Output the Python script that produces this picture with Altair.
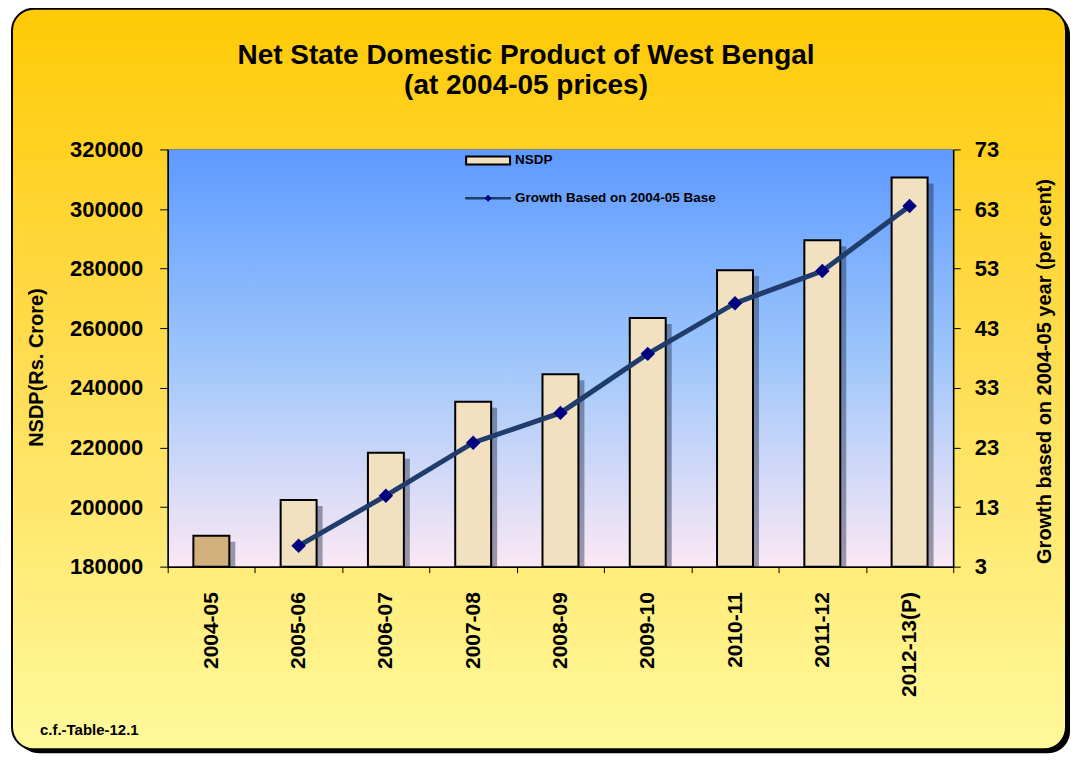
import altair as alt
import pandas as pd

years = ["2004-05", "2005-06", "2006-07", "2007-08", "2008-09",
         "2009-10", "2010-11", "2011-12", "2012-13(P)"]
nsdp = [190400, 202400, 218200, 235300, 244600, 263400, 279500, 289500, 310600]
growth_years = years[1:]
growth = [6.5, 14.9, 23.8, 28.8, 38.7, 47.2, 52.6, 63.5]

W, H = 787, 418
FONT = "Liberation Sans"

bars_df = pd.DataFrame({"year": years, "nsdp": nsdp})
line_df = pd.DataFrame({"year": growth_years, "growth": growth})
one = pd.DataFrame({"k": [0]})

xscale = alt.Scale(domain=years, paddingInner=0, paddingOuter=0)
x_axis = alt.Axis(title=None, labelAngle=270, labelAlign="right", labelBaseline="middle",
                  labelPadding=19, labelFontSize=21, labelFontWeight="bold", labelFont=FONT,
                  labelColor="black", tickBand="extent", tickSize=6, tickColor="black",
                  domainColor="black", domainWidth=1.5, zindex=1)

outer_grad = {"gradient": "linear", "x1": 0, "y1": 0, "x2": 0, "y2": 1,
              "stops": [{"offset": 0, "color": "#FFCA05"},
                        {"offset": 0.5, "color": "#FFDE55"},
                        {"offset": 1, "color": "#FFF99C"}]}
plot_grad = {"gradient": "linear", "x1": 0, "y1": 0, "x2": 0, "y2": 1,
             "stops": [{"offset": 0, "color": "#5D99FF"},
                       {"offset": 0.5, "color": "#9EC6FB"},
                       {"offset": 1, "color": "#FBE8F4"}]}

shadow = alt.Chart(one).mark_rect(cornerRadius=22, fill="#000000").encode(
    x=alt.value(-151), x2=alt.value(904), y=alt.value(-137), y2=alt.value(605))
outer = alt.Chart(one).mark_rect(cornerRadius=22, fill=outer_grad, stroke="black",
                                 strokeWidth=2).encode(
    x=alt.value(-156), x2=alt.value(900), y=alt.value(-141), y2=alt.value(601))
plotbg = alt.Chart(one).mark_rect(fill=plot_grad, stroke="#808080", strokeWidth=1).encode(
    x=alt.value(0), x2=alt.value(W), y=alt.value(0), y2=alt.value(H))

yl = alt.Scale(domain=[180000, 320000], nice=False, zero=False)
left_axis = alt.Axis(title="NSDP(Rs. Crore)", values=list(range(180000, 320001, 20000)),
                     format="d", labelFontSize=22, labelFontWeight="bold", labelFont=FONT,
                     labelColor="black", labelPadding=17, tickSize=8, tickColor="black",
                     domainColor="black", domainWidth=1.5, grid=False,
                     titleFontSize=20, titleFont=FONT, titleFontWeight="bold", titleColor="black",
                     titleX=-131, titleY=218, titleAngle=270, titleAlign="center",
                     titleBaseline="middle", zindex=1)

bar_shadow = alt.Chart(bars_df).mark_bar(size=36, color="#1a2440", opacity=0.42,
                                         xOffset=6, yOffset=6).encode(
    x=alt.X("year:N", scale=xscale, axis=x_axis, sort=years),
    y=alt.Y("nsdp:Q", scale=yl, axis=left_axis),
    y2=alt.datum(180000),
)
bars = alt.Chart(bars_df).mark_bar(size=36, stroke="black", strokeWidth=2).encode(
    x=alt.X("year:N", scale=xscale, axis=x_axis, sort=years),
    y=alt.Y("nsdp:Q", scale=yl, axis=left_axis),
    y2=alt.datum(180000),
    fill=alt.condition(alt.datum.year == "2004-05", alt.value("#D2B07E"), alt.value("#F1E1C0")),
)

yr = alt.Scale(domain=[3, 73], nice=False, zero=False)
right_axis = alt.Axis(title="Growth based on 2004-05 year (per cent)", orient="right",
                      values=list(range(3, 74, 10)), labelFontSize=22, labelFontWeight="bold",
                      labelFont=FONT, labelColor="black", labelPadding=14, tickSize=7,
                      tickColor="black", domainColor="black", domainWidth=1.5, grid=False,
                      titleFontSize=20, titleFont=FONT, titleFontWeight="bold", titleColor="black",
                      titleX=91, titleY=222, titleAngle=270, titleAlign="center",
                      titleBaseline="middle", zindex=1)

line = alt.Chart(line_df).mark_line(color="#1F3C6B", strokeWidth=5).encode(
    x=alt.X("year:N", scale=xscale, axis=x_axis, sort=years),
    y=alt.Y("growth:Q", scale=yr, axis=right_axis),
)
pts = alt.Chart(line_df).mark_point(shape="diamond", filled=True, color="#000080",
                                    size=210, opacity=1).encode(
    x=alt.X("year:N", scale=xscale, axis=x_axis, sort=years),
    y=alt.Y("growth:Q", scale=yr, axis=right_axis),
)

# legend
leg_rect = alt.Chart(one).mark_rect(fill="#F1E1C0", stroke="black", strokeWidth=2).encode(
    x=alt.value(299), x2=alt.value(343), y=alt.value(7), y2=alt.value(15))
leg_line = alt.Chart(one).mark_rule(color="#1F3C6B", strokeWidth=2.5).encode(
    x=alt.value(298), x2=alt.value(344), y=alt.value(49))
leg_pt = alt.Chart(one).mark_point(shape="diamond", filled=True, color="#000080",
                                   size=50, opacity=1).encode(x=alt.value(321), y=alt.value(49))
leg_t1 = alt.Chart(one).mark_text(align="left", baseline="middle", fontSize=13.5,
                                  fontWeight="bold", font=FONT, color="black").encode(
    x=alt.value(348), y=alt.value(11), text=alt.value("NSDP"))
leg_t2 = alt.Chart(one).mark_text(align="left", baseline="middle", fontSize=13.5,
                                  fontWeight="bold", font=FONT, color="black").encode(
    x=alt.value(348), y=alt.value(49), text=alt.value("Growth Based on 2004-05 Base"))

title1 = alt.Chart(one).mark_text(align="center", baseline="middle", fontSize=28,
                                  fontWeight="bold", font=FONT, color="black").encode(
    x=alt.value(359), y=alt.value(-94), text=alt.value("Net State Domestic Product of West Bengal"))
title2 = alt.Chart(one).mark_text(align="center", baseline="middle", fontSize=28,
                                  fontWeight="bold", font=FONT, color="black").encode(
    x=alt.value(359), y=alt.value(-64), text=alt.value("(at 2004-05 prices)"))
foot = alt.Chart(one).mark_text(align="left", baseline="middle", fontSize=15,
                                fontWeight="bold", font=FONT, color="black").encode(
    x=alt.value(-128), y=alt.value(582), text=alt.value("c.f.-Table-12.1"))

left_layer = alt.layer(bar_shadow, bars)
right_layer = alt.layer(line, pts)

chart = alt.layer(
    shadow, outer, plotbg, left_layer, right_layer,
    leg_rect, leg_line, leg_pt, leg_t1, leg_t2, title1, title2, foot
).resolve_scale(y="independent").properties(
    width=W, height=H,
    padding={"left": 160, "top": 141, "right": 118, "bottom": 188},
    autosize=alt.AutoSizeParams(type="none"),
    background="white",
).configure_view(stroke=None)

chart.save("out.html", embed_options={"renderer": "svg", "actions": False})
